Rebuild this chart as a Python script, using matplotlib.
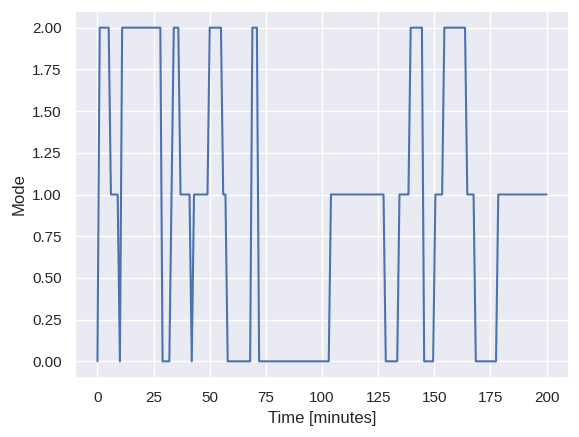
import matplotlib
matplotlib.use("Agg")
import matplotlib.pyplot as plt
import seaborn as sns

# Breakpoints of the mode trace (time in minutes, mode value)
time_min = [0, 1, 5, 6, 9, 10, 11, 28, 29, 32, 34, 36, 37, 41, 42, 43, 49, 50,
            55, 56, 57, 58, 68, 69, 71, 72, 103, 104, 127.4, 128.4, 133.5, 134.5,
            138.5, 139.5, 144.5, 145.5, 149.5, 150.5, 153.5, 154.5, 163.7, 164.7,
            167.5, 168.5, 177.5, 178.5, 200]
mode = [0, 2, 2, 1, 1, 0, 2, 2, 0, 0, 2, 2, 1, 1, 0, 1, 1, 2,
        2, 1, 1, 0, 0, 2, 2, 0, 0, 1, 1, 0, 0, 1,
        1, 2, 2, 0, 0, 1, 1, 2, 2, 1,
        1, 0, 0, 1, 1]

sns.set_theme()
plt.rcParams['font.family'] = ['Liberation Sans', 'DejaVu Sans']

fig = plt.figure(figsize=(5.79, 4.37), dpi=100)
ax = fig.add_axes([75 / 579, 59 / 437, 494 / 579, 367 / 437])
ax.plot(time_min, mode)
ax.set_xlabel("Time [minutes]")
ax.set_ylabel("Mode")

fig.savefig("out.png", dpi=100)
